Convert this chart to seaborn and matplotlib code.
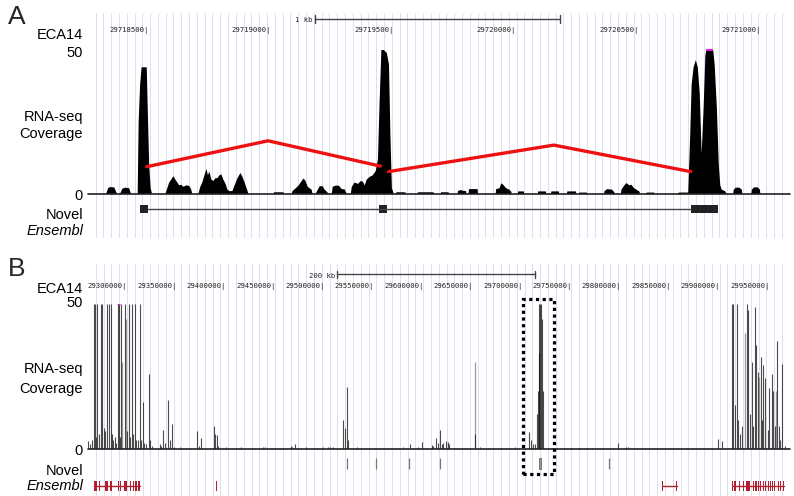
import numpy as np
import pandas as pd
import matplotlib
matplotlib.use("Agg")
import matplotlib.pyplot as plt
import seaborn as sns
from matplotlib.patches import Rectangle
from matplotlib.transforms import blended_transform_factory, offset_copy

W, H = 794, 496

# ---------------- Panel A data (bp offsets from 29,718,000) ----------------
A_ORIGIN = 29718000
a_xlim = (260, 3129)
a_ticks = [500, 1000, 1500, 2000, 2500, 3000]
a_scalebar = (1188, 2188)

a_cov_pos = [260,
    332, 340, 348, 365, 377,
    389, 398, 410, 426, 434,
    461, 465, 471, 477, 498, 502, 508, 514, 520,
    574, 582, 590, 598, 607, 615, 623, 631, 639, 648, 660, 672, 680, 684,
    709, 717, 725, 734, 742, 748, 754, 762, 770, 779, 787, 795, 803, 811, 820, 828, 836, 848, 857, 869, 881, 889, 898, 906, 914,
    1016, 1018, 1057, 1059,
    1090, 1094, 1107, 1119, 1127, 1139, 1147, 1156, 1164, 1172, 1176,
    1188, 1197, 1205, 1217, 1225, 1234, 1242,
    1254, 1258, 1270, 1283, 1295, 1307, 1316,
    1332, 1336, 1348, 1361, 1373, 1381, 1389, 1397, 1410, 1422, 1434, 1443, 1449, 1457, 1467, 1479, 1488, 1494, 1500, 1508,
    1516, 1518, 1555, 1557,
    1604, 1606, 1670, 1672,
    1699, 1701, 1732, 1734,
    1768, 1770, 1780, 1787, 1803, 1805,
    1813, 1815, 1850, 1852,
    1924, 1926, 1940, 1947, 1955, 1967, 1980, 1988, 1990,
    2014, 2016, 2039, 2041,
    2096, 2098, 2129, 2131,
    2150, 2152, 2182, 2184,
    2215, 2217, 2252, 2254,
    2264, 2266, 2297, 2299,
    2367, 2369, 2380, 2400, 2410, 2412,
    2436, 2438, 2450, 2459, 2470, 2479, 2490, 2500, 2512, 2514,
    2539, 2541, 2572, 2574,
    2670, 2672, 2711, 2719, 2725, 2733, 2742, 2750, 2758, 2766, 2774, 2781, 2785, 2813, 2819, 2828, 2836, 2842, 2848, 2861, 2869,
    2895, 2897, 2905, 2920, 2930, 2932,
    2969, 2971, 2980, 2995, 3004, 3006,
    3117, 3119, 3122,
    3129]
a_cov_val = [0,
    0, 2.0, 2.4, 2.3, 0,
    0, 1.8, 2.2, 2.0, 0,
    0, 25, 38, 44, 44, 30, 10, 2, 0,
    0, 2, 4, 5, 6.2, 5, 4, 3, 3.2, 2.5, 3, 2.8, 1.5, 0,
    0, 2.5, 4, 6.5, 8.7, 6.5, 7.8, 5, 4.5, 5.5, 5.5, 6.5, 6.8, 5, 3.5, 1.5, 1, 1, 3, 5.5, 7.3, 6, 4, 2, 0,
    0, 0.6, 0.6, 0,
    0, 1, 2, 3, 4, 5.4, 4.5, 2.5, 2, 1.5, 0,
    0, 1.5, 2.7, 2.7, 1.5, 0.8, 0,
    0, 2.5, 2.9, 2.9, 1.7, 1.6, 0,
    0, 2.5, 4, 3.5, 4.5, 4.3, 3, 5, 6, 6.5, 8, 12, 30, 50, 50, 49, 45, 20, 2, 0,
    0, 0.6, 0.6, 0,
    0, 0.6, 0.6, 0,
    0, 0.6, 0.6, 0,
    0, 1.0, 1.4, 1.2, 1.0, 0,
    0, 1.7, 1.7, 0,
    0, 1.7, 2.0, 3.7, 3.2, 2.0, 1.5, 0.8, 0,
    0, 0.9, 0.9, 0,
    0, 0.9, 0.9, 0,
    0, 0.9, 0.9, 0,
    0, 0.9, 0.9, 0,
    0, 0.5, 0.5, 0,
    0, 1.0, 1.7, 1.5, 0.5, 0,
    0, 1.5, 3.0, 3.8, 3.0, 3.2, 2.0, 1.5, 0.8, 0,
    0, 0.5, 0.5, 0,
    0, 0.5, 0.5, 20, 38, 44, 46.5, 44, 35, 14, 30, 48, 50, 50, 45, 30, 10, 3, 1.5, 1, 0,
    0, 1.5, 2.2, 2.2, 1.5, 0,
    0, 1.5, 2.3, 2.3, 1.5, 0,
    0, 0.5, 0,
    0]
a_clip = (2785, 2813)
a_junc1_pos = [500, 996, 1455]
a_junc1_val = [9.3, 18.3, 9.5]
a_junc2_pos = [1488, 2164, 2723]
a_junc2_val = [7.6, 16.8, 7.6]
a_novel_exons = [(471, 504), (1451, 1484), (2725, 2836)]

# ---------------- Panel B data (kb) ----------------
b_xlim = (29262.6, 29973.0)
b_ticks = [29300, 29350, 29400, 29450, 29500, 29550, 29600, 29650,
           29700, 29750, 29800, 29850, 29900, 29950]
b_scalebar = (29515, 29715)
b_spike_pos = [29263.1, 29264.6, 29266.6, 29268.6, 29269.9, 29271.2, 29272.0, 29273.7,
    29276.0, 29276.7, 29278.8, 29280.3, 29282.1, 29283.5, 29285.5, 29286.8, 29288.4,
    29289.9, 29290.9, 29292.9, 29293.9, 29294.9, 29296.3, 29299.7,
    29302.5, 29304.0, 29305.6, 29307.4, 29308.6, 29310.4, 29311.6, 29313.2, 29314.9,
    29316.2, 29317.9, 29319.2, 29321.2, 29324.0, 29325.3, 29327.3, 29335.1, 29336.4,
    29338.5, 29340.5, 29343.8, 29345.5, 29347.3, 29349.6, 29355.7, 29373.4, 29374.9,
    29376.9, 29390.6, 29391.6, 29392.8, 29394.1, 29402.2, 29417.4, 29439.6, 29441.7,
    29468.0, 29469.5, 29472.0, 29483.2, 29500.4, 29505.4, 29507.9, 29510.5, 29520.9,
    29522.6, 29524.9, 29526.2, 29534.5, 29581.3, 29588.4, 29596.5, 29600.2, 29610.4,
    29612.0, 29614.7, 29617.0, 29618.7, 29620.5, 29622.1, 29624.8, 29626.5, 29628.2,
    29633.9, 29654.2, 29659.2, 29667.3, 29679.5, 29694.6, 29709.1, 29710.5, 29712.6,
    29714.9, 29716.6, 29717.6, 29718.6, 29719.2, 29719.9, 29720.9, 29721.7, 29722.7,
    29736.8, 29752.0, 29760.4, 29768.8, 29772.2, 29782.4, 29799.2, 29807.0, 29809.3,
    29851.5, 29868.4, 29900.4, 29903.8, 29914.5, 29915.5, 29917.3, 29919.0, 29920.3,
    29922.3, 29924.3, 29929.1, 29930.7, 29932.4, 29934.5, 29935.8, 29937.5,
    29938.5, 29940.8, 29943.3, 29944.5, 29945.9, 29947.6, 29950.3, 29952.0, 29954.4,
    29956.0, 29957.7, 29959.5, 29962.1, 29963.3, 29965.2, 29967.9, 29970.9]
b_spike_val = [2.5, 1.5, 3, 50, 50, 4, 50, 5,
    50, 50, 7, 6, 50, 50, 50, 5, 3,
    4, 2, 50, 50, 4, 50, 50,
    6, 50, 4, 50, 5, 50, 3, 3, 50,
    3, 16, 2, 1.5, 26, 3, 1, 1.5, 1,
    6.5, 2, 16.7, 3, 8.7, 0.5, 0.5, 6, 1,
    3.7, 8, 5, 4.8, 1, 0.6, 0.5, 0.7, 0.5,
    0.8, 0.6, 1.5, 0.6, 0.5, 0.6, 0.6, 0.6, 9.8,
    7, 21.4, 3, 0.6, 0.6, 1.5, 0.5, 2.3, 1.2,
    1, 3.7, 2, 6.6, 1.5, 2, 2.6, 2.2, 1.5,
    0.4, 5, 0.5, 0.3, 0.4, 0.6, 5.9, 3, 1.5,
    1.5, 12, 20, 33, 50, 50, 50, 45, 20,
    0.4, 0.3, 0.3, 0.3, 0.3, 0.3, 2, 0.5, 0.5,
    0.3, 0.3, 3.3, 2.5, 50, 50, 15, 50, 10,
    5, 8, 50, 48, 12, 30, 8, 49,
    36, 26.7, 31.9, 10, 29, 24.4, 6.5, 20.9, 26,
    20, 8, 37.3, 8, 3, 29.2, 1, 0.4]
# lighter (low-density) coverage traces
b_faint_pos = [29297.5, 29301.0, 29654.2, 29927.4, 29941.5, 29958.5]
b_faint_val = [30, 45, 30, 40, 25, 20]
b_clip = 29293.9
b_box = (29703.3, 29734.2)
b_novel_ticks = [29524.3, 29554.0, 29587.1, 29618.7, 29790.1]
b_novel_box = (29718.5, 29721.0)
b_ens_genes = [(29268.6, 29315.2), (29843.4, 29858.6), (29914.9, 29966.8)]
b_ens_exons = [29268.9, 29270.0, 29271.0, 29273.9, 29280.8, 29282.5, 29285.8, 29293.2,
    29295.6, 29300.0, 29301.7, 29305.8, 29308.4, 29311.1, 29313.5, 29315.0,
    29392.8, 29843.6, 29858.4,
    29914.9, 29917.3, 29922.3, 29925.7, 29929.1, 29930.5, 29932.0, 29935.8, 29938.5,
    29940.8, 29943.3, 29945.9, 29948.6, 29950.9, 29953.4, 29955.4, 29957.7, 29961.1,
    29963.5, 29966.1]

# ---------------- styling / layout ----------------
sns.set_theme(style="white")
plt.rcParams["font.family"] = ["Liberation Sans", "DejaVu Sans"]

GRID = "#dedef5"
RED_ENS = "#b0202e"
MONO = "DejaVu Sans Mono"


def rect(x0, y0, x1, y1):
    return [x0 / W, 1 - y1 / H, (x1 - x0) / W, (y1 - y0) / H]


def fy(y):
    return 1 - y / H


fig = plt.figure(figsize=(W / 100, H / 100), dpi=100)


def grid_axes(y0, y1, first):
    ax = fig.add_axes(rect(88, y0, 790, y1))
    ax.set_xlim(88, 790)
    ax.set_ylim(0, 1)
    ax.axis("off")
    for gx in np.arange(first, 790, 7.8):
        ax.axvline(gx, color=GRID, lw=0.75, zorder=0)
    return ax


def left_labels(rows):
    for txt, yb, style in rows:
        fig.text(83 / W, fy(yb), txt, ha="right", va="baseline",
                 fontsize=10.5, style=style, color="black")


# ======================= Panel A =======================
grid_axes(13, 238, 95.5)
covA = fig.add_axes(rect(88, 49.5, 790, 193.5))
covA.set_xlim(*a_xlim)
covA.set_ylim(0, 50)
covA.axis("off")
covA.fill_between(a_cov_pos, a_cov_val, 0, color="black", lw=0, zorder=2)
covA.axhline(0, color="#222222", lw=1.2, zorder=3, clip_on=False)
covA.plot(a_clip, [50, 50], color="#e020e0", lw=1.5, solid_capstyle="butt", zorder=4, clip_on=False)
for jp, jv in ((a_junc1_pos, a_junc1_val), (a_junc2_pos, a_junc2_val)):
    sns.lineplot(x=jp, y=jv, ax=covA, color="#ee1111", lw=2.4, sort=False,
                 estimator=None, zorder=5)
covA.axis("off")

trA = blended_transform_factory(covA.transData, fig.transFigure)
for t in a_ticks:
    fig.text(t, fy(31.8), f"{A_ORIGIN + t}|", transform=offset_copy(trA, fig=fig, x=1.6, units="points"),
             ha="right", va="baseline", fontsize=5.2, family=MONO, color="#222222")
sb0, sb1 = a_scalebar
fig.add_artist(plt.Line2D([sb0, sb1], [fy(19), fy(19)], transform=trA, color="#444444", lw=1))
for s in (sb0, sb1):
    fig.add_artist(plt.Line2D([s, s], [fy(15), fy(23)], transform=trA, color="#444444", lw=1))
fig.text(sb0, fy(22), "1 kb", transform=offset_copy(trA, fig=fig, x=-1.5, units="points"),
         ha="right", va="baseline", fontsize=5.2, family=MONO, color="#222222")

genA = fig.add_axes(rect(88, 200, 790, 240))
genA.set_xlim(*a_xlim)
genA.set_ylim(40, 0)
genA.axis("off")
genA.plot([a_novel_exons[0][1], a_novel_exons[-1][0]], [9, 9], color="#444444", lw=1)
for e0, e1 in a_novel_exons:
    genA.add_patch(Rectangle((e0, 4.6), e1 - e0, 8.8, color="#222222", lw=0))

fig.text(8 / W, fy(24), "A", fontsize=19, ha="left", va="baseline")
left_labels([("ECA14", 39, "normal"), ("50", 57, "normal"), ("RNA-seq", 121, "normal"),
             ("Coverage", 138, "normal"), ("0", 200, "normal"), ("Novel", 219, "normal"),
             ("Ensembl", 235, "italic")])

# ======================= Panel B =======================
grid_axes(264, 496, 95.7)
covB = fig.add_axes(rect(88, 304.3, 790, 448.7))
covB.set_xlim(*b_xlim)
covB.set_ylim(0, 50)
covB.axis("off")
covB.vlines(b_faint_pos, 0, b_faint_val, color="#9a9a9a", lw=0.9, zorder=1)
covB.vlines(b_spike_pos, 0, b_spike_val, color="#111111", lw=0.8, alpha=0.75, zorder=2)
covB.axhline(0, color="#222222", lw=1.2, zorder=3, clip_on=False)
covB.plot([b_clip - 0.8, b_clip + 0.8], [50, 50], color="#e020e0", lw=1.2, zorder=4)

trB = blended_transform_factory(covB.transData, fig.transFigure)
for t in b_ticks:
    fig.text(t, fy(287.6), f"{t * 1000}|", transform=offset_copy(trB, fig=fig, x=1.6, units="points"),
             ha="right", va="baseline", fontsize=5.2, family=MONO, color="#222222")
sb0, sb1 = b_scalebar
fig.add_artist(plt.Line2D([sb0, sb1], [fy(274.3), fy(274.3)], transform=trB, color="#444444", lw=1))
for s in (sb0, sb1):
    fig.add_artist(plt.Line2D([s, s], [fy(270.5), fy(278)], transform=trB, color="#444444", lw=1))
fig.text(sb0, fy(277.5), "200 kb", transform=offset_copy(trB, fig=fig, x=-1.5, units="points"),
         ha="right", va="baseline", fontsize=5.2, family=MONO, color="#222222")

bx0, bx1 = b_box
fig.add_artist(Rectangle((bx0, fy(474)), bx1 - bx0, fy(299) - fy(474), transform=trB,
                         fill=False, ec="black", lw=2.3, ls=(0, (1, 1.1)), zorder=10))

genB = fig.add_axes(rect(88, 455, 790, 495))
genB.set_xlim(*b_xlim)
genB.set_ylim(40, 0)
genB.axis("off")
genB.vlines(b_novel_ticks, 3, 14, color="#777777", lw=0.9)
genB.add_patch(Rectangle((b_novel_box[0], 3), b_novel_box[1] - b_novel_box[0], 11,
                         fc="#9a9a9a", ec="#666666", lw=0.6))
for g0, g1 in b_ens_genes:
    genB.plot([g0, g1], [31, 31], color=RED_ENS, lw=1)
for e in b_ens_exons:
    genB.add_patch(Rectangle((e - 0.6, 26), 1.2, 10, color=RED_ENS, lw=0))

fig.text(8 / W, fy(276), "B", fontsize=19, ha="left", va="baseline")
left_labels([("ECA14", 293, "normal"), ("50", 307, "normal"), ("RNA-seq", 373, "normal"),
             ("Coverage", 393, "normal"), ("0", 455, "normal"), ("Novel", 475, "normal"),
             ("Ensembl", 490, "italic")])

fig.savefig("out.png", dpi=100)
